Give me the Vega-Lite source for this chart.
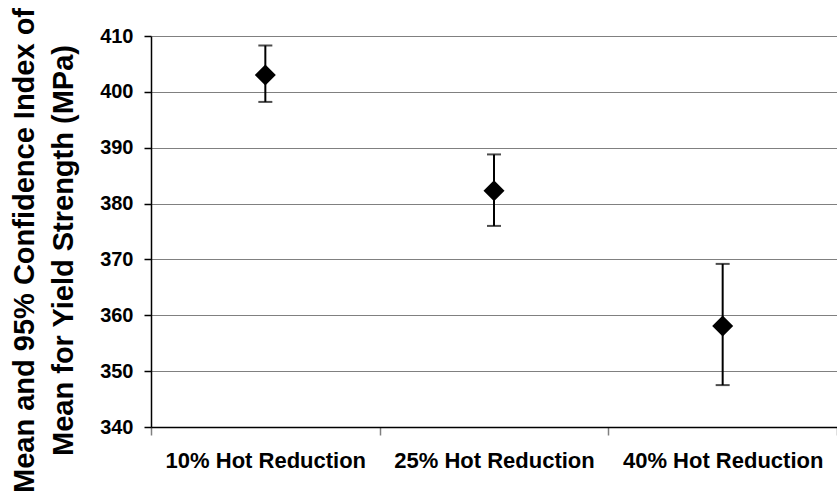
{
  "$schema": "https://vega.github.io/schema/vega-lite/v6.json",
  "width": 686,
  "height": 391,
  "autosize": {"type": "none"},
  "padding": {"left": 151, "top": 36, "right": 0, "bottom": 66},
  "background": "white",
  "config": {
    "view": {"stroke": null},
    "font": "Liberation Sans",
    "axis": {"labelFont": "Liberation Sans", "titleFont": "Liberation Sans", "labelFontWeight": "bold", "titleFontWeight": "bold", "labelColor": "#000", "titleColor": "#000"}
  },
  "data": {
    "values": [
      {"group": "10% Hot Reduction", "mean": 403.0, "lo": 398.2, "hi": 408.3},
      {"group": "25% Hot Reduction", "mean": 382.3, "lo": 376.0, "hi": 388.8},
      {"group": "40% Hot Reduction", "mean": 358.1, "lo": 347.5, "hi": 369.2}
    ]
  },
  "encoding": {
    "x": {
      "field": "group", "type": "nominal", "sort": null,
      "scale": {"type": "band", "paddingInner": 0, "paddingOuter": 0},
      "axis": {
        "title": null, "labelAngle": 0, "labelFontSize": 22, "labelPadding": 15, "labelLimit": 0,
        "tickBand": "extent", "tickSize": 8, "tickColor": "#808080", "tickWidth": 1.5,
        "domainColor": "#000", "domainWidth": 1.5, "grid": false
      }
    }
  },
  "layer": [
    {
      "mark": {"type": "rule", "color": "#000", "strokeWidth": 2},
      "encoding": {
        "y": {
          "field": "lo", "type": "quantitative",
          "scale": {"domain": [340, 410], "nice": false, "zero": false},
          "axis": {
            "values": [340, 350, 360, 370, 380, 390, 400, 410],
            "title": ["Mean and 95% Confidence Index of", "Mean for Yield Strength (MPa)"],
            "titleFontSize": 29, "titleLineHeight": 39, "titleAngle": -90,
            "titleBaseline": "alphabetic", "titleAlign": "center",
            "titleX": -118, "titleY": 214,
            "labelFontSize": 20, "labelPadding": 11, "tickSize": 7, "tickColor": "#000", "tickWidth": 1.5,
            "domainColor": "#000", "domainWidth": 1.5,
            "grid": true, "gridColor": "#808080", "gridWidth": 1.2
          }
        },
        "y2": {"field": "hi"}
      }
    },
    {
      "mark": {"type": "tick", "color": "#000", "size": 14, "thickness": 2, "orient": "horizontal"},
      "encoding": {"y": {"field": "lo", "type": "quantitative"}}
    },
    {
      "mark": {"type": "tick", "color": "#000", "size": 14, "thickness": 2, "orient": "horizontal"},
      "encoding": {"y": {"field": "hi", "type": "quantitative"}}
    },
    {
      "mark": {"type": "point", "shape": "diamond", "filled": true, "color": "#000", "size": 441, "opacity": 1},
      "encoding": {"y": {"field": "mean", "type": "quantitative"}}
    }
  ]
}
